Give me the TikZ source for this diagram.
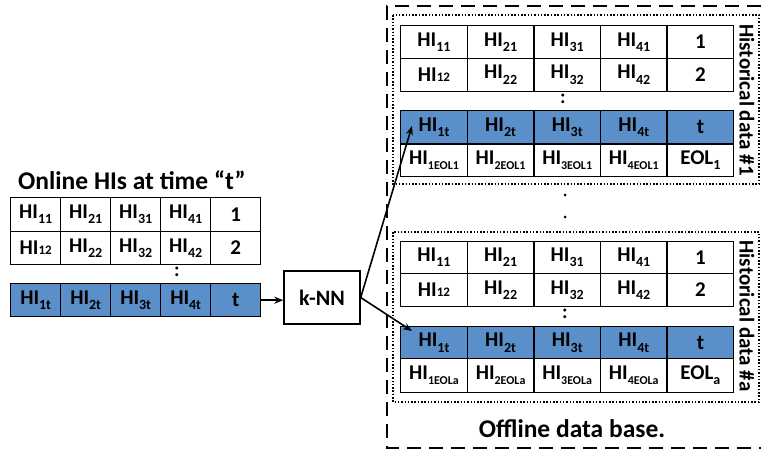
\documentclass[tikz,border=0pt]{standalone}
\usepackage{fontspec}
\setmainfont{Carlito}
\usetikzlibrary{arrows.meta,calc}
\definecolor{hiblue}{RGB}{91,143,201}
\newcommand{\sbs}[1]{\raisebox{-0.5ex}{\fontsize{14}{14}\selectfont #1}}
\newcommand{\sbl}[1]{\raisebox{-0.5ex}{\fontsize{12}{12}\selectfont #1}}
\newcommand{\inl}[1]{{\fontsize{13}{14}\selectfont #1}}
\newcommand{\mkrow}[7]{\foreach \t [count=\i] in {#7} {\node[#6, minimum width=#4pt, minimum height=#5pt] (#1-\i) at ({#2+(\i-1)*#4},#3) {\t};}}
\tikzset{
  cell/.style={draw, line width=1.4pt, inner sep=0pt, anchor=north west, font=\fontsize{21}{23}\selectfont\bfseries},
  bcell/.style={cell, fill=hiblue},
  lbl/.style={font=\fontsize{25.5}{28}\selectfont\bfseries},
  sidelbl/.style={font=\fontsize{21}{23}\selectfont\bfseries, rotate=-90},
  arr/.style={line width=1.6pt, -{Stealth[length=9pt,width=7pt]}},
  dotbox/.style={line width=1.5pt, dash pattern=on 1.5pt off 1.8pt},
  dashbox/.style={line width=2pt, dash pattern=on 14pt off 8pt},
  colon/.style={font=\fontsize{20}{22}\selectfont\bfseries}
}
\begin{document}
\begin{tikzpicture}[x=1pt,y=-1pt]
\useasboundingbox (0,0) rectangle (761,453);
% left table
\node[lbl] (title) at (132,180) {Online HIs at time “t”};
\mkrow{L1}{10}{197}{50}{33.5}{cell}{HI\sbs{11},HI\sbs{21},HI\sbs{31},HI\sbs{41},1}
\mkrow{L2}{10}{230.5}{50}{33.5}{cell}{HI\inl{12},HI\sbs{22},HI\sbs{32},HI\sbs{42},2}
\node[colon] (Lc) at (177,272) {:};
\mkrow{L3}{10}{283}{50}{33}{bcell}{HI\sbs{1t},HI\sbs{2t},HI\sbs{3t},HI\sbs{4t},t}
% kNN
\node[draw, line width=1.4pt, minimum width=76pt, minimum height=53pt, inner sep=0pt, font=\fontsize{22}{24}\selectfont\bfseries] (knn) at (322,297.5) {k-NN};
\draw[arr] (L3-5.east) -- (L3-5.east -| knn.west);
% outer dashed box
\coordinate (d1) at (761,6);
\coordinate (d2) at (387,6);
\coordinate (d3) at (387,448);
\coordinate (d4) at (761,448);
\draw[dashbox] (d1) -- (d2) -- (d3) -- (d4);
% dotted boxes
\draw[dotbox] (393,15) rectangle (759,184);
\draw[dotbox] (393,232) rectangle (759,402);
% table 1
\mkrow{A1}{400}{25}{66.6}{32.5}{cell}{HI\sbs{11},HI\sbs{21},HI\sbs{31},HI\sbs{41},1}
\mkrow{A2}{400}{57.5}{66.6}{33}{cell}{HI\inl{12},HI\sbs{22},HI\sbs{32},HI\sbs{42},2}
\node[colon] (Ac) at (563,99) {:};
\mkrow{A3}{400}{110}{66.6}{33.3}{bcell}{HI\sbs{1t},HI\sbs{2t},HI\sbs{3t},HI\sbs{4t},t}
\mkrow{A4}{400}{143.3}{66.6}{32.5}{cell}{HI\sbl{1EOL1},HI\sbl{2EOL1},HI\sbl{3EOL1},HI\sbl{4EOL1},EOL\sbs{1}}
\node[sidelbl] (Ah) at (747,100) {Historical data \#1};
% dots
\fill (565,195) circle (1.5pt);
\fill (565,217) circle (1.5pt);
% table 2
\mkrow{B1}{400}{240.7}{66.6}{32}{cell}{HI\sbs{11},HI\sbs{21},HI\sbs{31},HI\sbs{41},1}
\mkrow{B2}{400}{272.7}{66.6}{33.3}{cell}{HI\inl{12},HI\sbs{22},HI\sbs{32},HI\sbs{42},2}
\node[colon] (Bc) at (565,314) {:};
\mkrow{B3}{400}{326}{66.6}{32}{bcell}{HI\sbs{1t},HI\sbs{2t},HI\sbs{3t},HI\sbs{4t},t}
\mkrow{B4}{400}{358}{66.6}{33.7}{cell}{HI\sbl{1EOLa},HI\sbl{2EOLa},HI\sbl{3EOLa},HI\sbl{4EOLa},EOL\sbs{a}}
\node[sidelbl] (Bh) at (747,316) {Historical data \#a};
\node[lbl] (off) at (572,429) {Offline data base.};
% kNN arrows
\coordinate (t1) at (412,126);
\coordinate (t2) at (412,331);
\draw[arr] (knn.east) -- (t1);
\draw[arr] (knn.east) -- (t2);
\end{tikzpicture}
\end{document}
